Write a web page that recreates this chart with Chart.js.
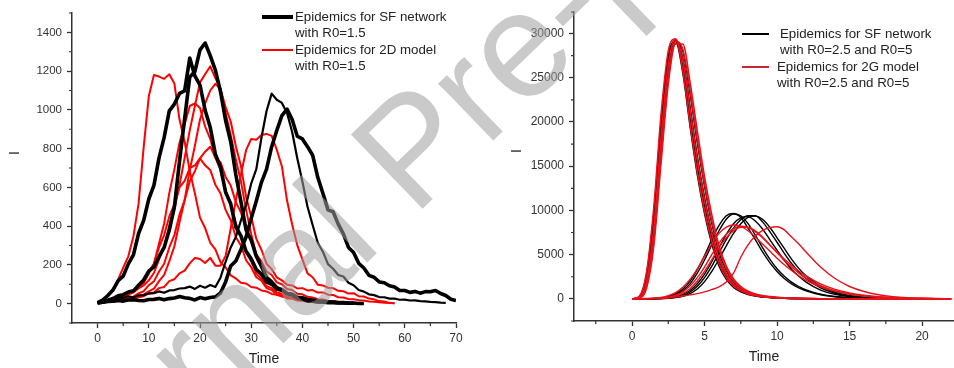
<!DOCTYPE html>
<html>
<head>
<meta charset="utf-8">
<script src="https://cdn.jsdelivr.net/npm/chart.js@4.4.1/dist/chart.umd.min.js"></script>
<style>
  html, body { margin: 0; padding: 0; background: #fff; }
  #wrap { position: relative; width: 954px; height: 368px; overflow: hidden; }
  .panel { position: absolute; top: 0; width: 477px; height: 368px; }
  #left { left: 0; }
  #right { left: 477px; }
  #mark { position: absolute; left: 0; top: 0; pointer-events: none; }
</style>
</head>
<body>
<div id="wrap">
  <div class="panel" id="left"><canvas id="c1" width="477" height="368"></canvas></div>
  <div class="panel" id="right"><canvas id="c2" width="477" height="368"></canvas></div>
  <svg id="mark" width="954" height="368">
    <text x="30" y="588" transform="rotate(-44 30 588)" font-family="Liberation Sans, Arial, sans-serif"
          font-size="150" fill="rgb(158,158,158)" fill-opacity="0.55">Journal Pre-proof</text>
  </svg>
</div>
<script>
/* ---------- left panel: R0 = 1.5, time step 1 ---------- */
const tLeft = [0,1,2,3,4,5,6,7,8,9,10,11,12,13,14,15,16,17,18,19,20,21,22,23,24,25,26,27,28,29,30,
  31,32,33,34,35,36,37,38,39,40,41,42,43,44,45,46,47,48,49,50,51,52,53,54,55,56,57,58,59,60,
  61,62,63,64,65,66,67,68,69,70];

// SF network runs (black)
const sfLow1 = [5,18,42,70,118,142,205,252,362,430,540,610,752,858,995,1030,1085,1098,1268,1175,1128,
  998,910,772,705,575,515,395,350,270,232,176,152,112,100,76,70,52,48,33,30,21,19,13,12,9,8,5,5,3,3,1,1];
const sfLow2 = [3,9,18,26,40,46,60,66,95,122,168,190,242,290,380,500,735,955,1170,1198,1310,1345,1280,
  1205,1095,945,835,665,525,380,328,244,192,136,112,82,72,52,46,29,23,14,13,9,8,5,5,3,3,2,2];
const sfLow3 = [5,9,16,18,28,29,38,33,43,44,52,54,63,56,68,70,78,80,88,76,92,82,96,86,134,216,290,344,
  430,510,620,694,856,994,1084,1052,1036,984,886,750,630,500,406,314,268,204,180,148,140,108,95,70,62,
  48,44,34,33,26,26,20,21,16,17,13,12,9,8,5,4];
const sfLow4 = [3,7,11,12,16,13,19,20,16,15,21,22,27,20,26,29,37,30,27,19,31,25,32,35,55,112,194,220,
  280,344,440,530,626,694,810,894,970,1004,950,864,850,810,766,652,570,484,474,410,360,290,264,208,184,
  146,136,112,108,92,86,68,68,58,63,54,62,61,68,52,42,23,16];

// 2D model runs (red)
const mLow1 = [5,15,38,74,124,186,244,348,516,808,1070,1180,1172,1160,1184,1136,950,836,684,570,444,
  390,314,280,214,188,146,130,108,104,86,82,68,63,50,46,36,33,26,23,17,16,11,10,7,6,4,4,2,2,1];
const mLow2 = [3,8,13,19,31,39,52,58,78,94,120,158,228,296,400,484,612,752,894,1020,1142,1184,1225,
  1164,1110,984,870,744,630,484,360,254,188,126,100,72,64,48,42,30,26,19,17,12,10,7,6,4,4,2,2,1,0];
const mLow3 = [2,5,9,11,17,19,26,29,40,46,63,77,116,148,218,296,420,534,690,814,950,1034,1100,1134,
  1110,1014,940,812,710,552,450,334,278,206,178,136,120,98,94,78,80,68,70,57,58,46,45,33,32,24,23,18,
  16,11,10,7,5,3,2];
const mLow4 = [5,8,13,15,23,29,47,58,83,106,155,206,310,414,570,694,830,924,1020,1034,1010,914,850,754,
  690,584,510,414,350,264,218,156,128,90,80,57,51,35,32,22,19,12,11,7,6,3,3,2];
const mLow5 = [3,5,9,10,16,19,30,36,53,64,95,115,166,206,290,354,460,534,630,684,750,784,810,754,730,
  654,610,524,470,384,330,254,218,166,148,110,100,76,70,51,48,35,32,23,21,14,13,8,6,4,2];
const mLow6 = [4,6,11,15,27,34,53,65,94,116,166,206,290,354,450,514,600,634,700,714,750,714,690,614,
  570,484,430,344,300,224,188,136,118,80,70,46,43,27,26,16,15,9,9,5,4,3];
const mLow7 = [2,5,9,9,13,14,22,24,33,38,54,57,80,86,116,126,156,170,208,236,230,210,236,196,196,246,
  388,532,668,792,850,846,870,876,866,794,708,532,408,302,228,156,136,98,94,82,80,66,64,52,54,38,37,
  26,22,13,11,4,2];

const xTicksLeft = [0,10,20,30,40,50,60,70];
const xMinorLeft = [5,15,25,35,45,55,65];
const yTicksLeft = [0,200,400,600,800,1000,1200,1400];
const yMinorLeft = [-100,100,300,500,700,900,1100,1300,1500];

/* ---------- right panel: R0 = 2.5 and R0 = 5 ---------- */
const tRight = [0,0.5,1,1.5,2,2.5,3,3.5,4,4.5,5,5.5,6,6.5,7,7.5,8,8.5,9,9.5,10,10.5,11,11.5,12,
  13,14,15,16,17,18,19,20,21,22];

// SF network, R0 = 5
const sfHighA = [0,250,2800,9800,20000,27500,29100,25500,19500,14000,9600,6200,3700,2200,1300,800,500,320,210,140,95,65,45,30,20,8,3,0,0,0,0,0,0,0,0];
const sfHighB = [0,200,2300,8800,19000,27000,29300,26300,20500,15000,10500,6900,4200,2500,1500,900,560,350,230,150,100,70,48,32,22,9,3,0,0,0,0,0,0,0,0];
const sfHighC = [0,150,1800,7600,17500,26000,29200,27200,21800,16200,11500,7600,4700,2800,1650,1000,620,390,250,165,110,75,50,35,24,10,4,1,0,0,0,0,0,0,0];
const sfHighD = [0,100,1400,6500,16000,24800,28900,28000,23200,17600,12700,8500,5300,3200,1900,1150,700,440,280,180,120,80,55,38,26,11,4,1,0,0,0,0,0,0,0];
// SF network, R0 = 2.5
const sfMidA = [0,5,20,50,110,260,560,1100,2000,3300,4900,6700,8300,9400,9650,9200,8000,6700,5300,4100,3100,2300,1700,1250,900,460,230,115,57,28,14,7,3,2,1];
const sfMidB = [0,4,15,40,90,210,460,920,1700,2900,4400,6100,7700,9000,9600,9400,8500,7200,5800,4500,3400,2550,1900,1400,1020,530,270,135,67,33,16,8,4,2,1];
const sfMidC = [0,3,8,20,45,110,240,500,950,1700,2800,4200,5800,7300,8500,9150,9300,8800,7900,6700,5500,4350,3350,2550,1900,1000,510,255,127,63,31,15,8,4,2];
const sfMidD = [0,2,6,15,35,85,190,400,780,1420,2400,3700,5200,6700,8000,8950,9400,9400,8700,7600,6400,5150,4000,3050,2300,1250,640,320,160,80,40,20,10,5,2];
const sfMidE = [0,1,4,10,25,60,140,300,600,1120,1950,3100,4500,6000,7400,8500,9200,9350,9000,8100,6900,5700,4500,3450,2600,1450,760,380,190,95,47,23,12,6,3];

// 2G model, R0 = 5
const gHighA = [0,300,3000,10300,20800,28000,29400,25800,19800,14300,9900,6500,4000,2400,1450,900,560,360,240,160,110,75,52,36,25,11,5,2,0,0,0,0,0,0,0];
const gHighB = [0,180,2000,8000,18200,26500,29300,27000,21400,15800,11200,7400,4600,2800,1700,1050,650,420,280,190,130,90,62,44,30,13,5,2,0,0,0,0,0,0,0];
const gHighC = [0,120,1500,6800,16500,25200,29100,28200,23600,18000,13000,8800,5600,3400,2050,1250,780,500,330,220,150,100,70,50,34,15,6,2,0,0,0,0,0,0,0];
const gHighD = [0,90,1200,6000,15300,24300,28800,28800,24500,19000,13800,9500,6000,3700,2250,1400,870,560,370,250,170,115,80,56,38,17,7,3,1,0,0,0,0,0,0];
// 2G model, R0 = 2.5
const gMidA = [0,15,40,80,150,350,700,1300,2200,3400,4800,6200,7400,8100,8350,8200,7700,7000,6200,5400,4600,3850,3200,2600,2100,1350,850,520,320,190,110,65,38,22,13];
const gMidB = [0,8,25,45,80,200,420,800,1450,2400,3600,5000,6300,7300,7950,8200,8050,7600,6900,6100,5300,4500,3800,3150,2600,1700,1080,670,410,250,150,90,54,32,19];
const gMidC = [0,5,15,28,50,130,300,620,1150,2000,3100,4400,5800,6900,7700,8100,8100,7700,7000,6100,5200,4350,3600,2900,2350,1500,930,570,350,210,125,75,45,27,16];
const gMidD = [0,3,10,30,60,120,200,320,450,600,800,1050,1350,1900,2900,4700,6100,7100,7750,8050,8150,7800,7000,6200,5300,3600,2300,1400,830,470,260,140,75,40,20];

const xTicksRight = [0,5,10,15,20];
const xMinorRight = [-2.5,2.5,7.5,12.5,17.5];
const yTicksRight = [0,5000,10000,15000,20000,25000,30000];
const yMinorRight = [-2500,2500,7500,12500,17500,22500,27500,32400];

/* ---------- drawing ---------- */
const AXIS = '#333';
const TXT = '#333';
const RED = '#ff0000';
Chart.defaults.font.family = "'Liberation Sans', Arial, sans-serif";

function pts(times, vals) {
  return vals.map((v, i) => ({ x: times[i], y: v }));
}

function run(times, vals, color, width, smooth) {
  return {
    data: pts(times, vals),
    borderColor: color,
    borderWidth: width,
    pointRadius: 0,
    fill: false,
    tension: smooth ? 0.4 : 0,
    cubicInterpolationMode: smooth ? 'monotone' : 'default',
    borderJoinStyle: 'round'
  };
}

// minor ticks, rotated "I" axis title and the two-entry legend
const decor = {
  id: 'decor',
  afterDraw(chart, args, o) {
    const ctx = chart.ctx;
    const area = chart.chartArea;
    const xs = chart.scales.x, ys = chart.scales.y;
    ctx.save();
    ctx.strokeStyle = AXIS;
    ctx.lineWidth = 1.2;
    ctx.beginPath();
    o.minorX.forEach(v => {
      const p = xs.getPixelForValue(v);
      ctx.moveTo(p, area.bottom);
      ctx.lineTo(p, area.bottom + 3);
    });
    o.minorY.forEach(v => {
      const p = ys.getPixelForValue(v);
      ctx.moveTo(area.left, p);
      ctx.lineTo(area.left - 3, p);
    });
    ctx.stroke();

    ctx.fillStyle = '#222';
    ctx.font = "14px 'Liberation Sans', Arial, sans-serif";
    ctx.textAlign = 'center';
    ctx.textBaseline = 'middle';
    ctx.save();
    ctx.translate(o.yTitle.x, o.yTitle.y);
    ctx.rotate(-Math.PI / 2);
    ctx.fillText('I', 0, 0);
    ctx.restore();

    ctx.font = "13.3px 'Liberation Sans', Arial, sans-serif";
    ctx.textAlign = 'left';
    o.legend.forEach(item => {
      ctx.strokeStyle = item.color;
      ctx.lineWidth = item.width;
      ctx.beginPath();
      ctx.moveTo(item.x0, item.y);
      ctx.lineTo(item.x1, item.y);
      ctx.stroke();
      item.lines.forEach((txt, i) => ctx.fillText(txt, item.tx, item.y + i * 16.3));
    });
    ctx.restore();
  }
};

function axes(xmin, xmax, xt, ymin, ymax, yt, yWidth, xHeight, xFont, yFont, titlePad) {
  const grid = { drawOnChartArea: false, drawTicks: true, tickLength: 5, tickColor: AXIS, tickWidth: 1.3 };
  const border = { display: true, color: AXIS, width: 1.5 };
  return {
    x: {
      type: 'linear', min: xmin, max: xmax,
      afterBuildTicks: s => { s.ticks = xt.map(v => ({ value: v })); },
      afterFit: s => { s.height = xHeight; },
      grid, border,
      ticks: { color: TXT, font: { size: xFont }, padding: 3, maxRotation: 0, autoSkip: false,
               callback: v => String(v) },
      title: { display: true, text: 'Time', color: '#222', font: { size: 14 },
               padding: { top: 0, bottom: titlePad } }
    },
    y: {
      type: 'linear', min: ymin, max: ymax,
      afterBuildTicks: s => { s.ticks = yt.map(v => ({ value: v })); },
      afterFit: s => { s.width = yWidth; },
      grid, border,
      ticks: { color: TXT, font: { size: yFont }, padding: 5, autoSkip: false,
               callback: v => String(v) }
    }
  };
}

const leftSets = [
  run(tLeft, sfLow1, '#000', 3.6, false),
  run(tLeft, sfLow2, '#000', 3.6, false),
  run(tLeft, sfLow3, '#000', 2.2, false),
  run(tLeft, sfLow4, '#000', 3.6, false),
  run(tLeft, mLow1, RED, 2, false),
  run(tLeft, mLow2, RED, 2, false),
  run(tLeft, mLow3, RED, 2, false),
  run(tLeft, mLow4, RED, 2, false),
  run(tLeft, mLow5, RED, 2, false),
  run(tLeft, mLow6, RED, 2, false),
  run(tLeft, mLow7, RED, 2, false)
];

new Chart(document.getElementById('c1'), {
  type: 'line',
  data: { datasets: leftSets },
  options: {
    responsive: false,
    animation: false,
    layout: { padding: { left: 0, top: 13, right: 21, bottom: 0 } },
    plugins: {
      legend: { display: false },
      tooltip: { enabled: false },
      decor: {
        minorX: xMinorLeft, minorY: yMinorLeft,
        yTitle: { x: 15, y: 153 },
        legend: [
          { color: '#000', width: 4, x0: 262, x1: 293, y: 17, tx: 295,
            lines: ['Epidemics for SF network', 'with R0=1.5'] },
          { color: RED, width: 2, x0: 262, x1: 293, y: 50, tx: 295,
            lines: ['Epidemics for 2D model', 'with R0=1.5'] }
        ]
      }
    },
    scales: axes(-5, 70, xTicksLeft, -100, 1500, yTicksLeft, 72, 45, 12, 11.5, 0)
  },
  plugins: [decor]
});

const RED2 = '#e8121a';
const rightSets = [
  run(tRight, gHighA, RED2, 1.6, true),
  run(tRight, gHighB, RED2, 1.6, true),
  run(tRight, gHighC, RED2, 1.6, true),
  run(tRight, gHighD, RED2, 1.6, true),
  run(tRight, gMidA, RED2, 1.4, true),
  run(tRight, gMidB, RED2, 1.4, true),
  run(tRight, gMidC, RED2, 1.4, true),
  run(tRight, gMidD, RED2, 1.4, true),
  run(tRight, sfHighA, '#000', 1.4, true),
  run(tRight, sfHighB, '#000', 1.4, true),
  run(tRight, sfHighC, '#000', 1.4, true),
  run(tRight, sfHighD, '#000', 1.4, true),
  run(tRight, sfMidA, '#000', 1.4, true),
  run(tRight, sfMidB, '#000', 1.4, true),
  run(tRight, sfMidC, '#000', 1.4, true),
  run(tRight, sfMidD, '#000', 1.4, true),
  run(tRight, sfMidE, '#000', 1.4, true)
];

new Chart(document.getElementById('c2'), {
  type: 'line',
  data: { datasets: rightSets },
  options: {
    responsive: false,
    animation: false,
    layout: { padding: { left: 0, top: 12, right: 0, bottom: 0 } },
    plugins: {
      legend: { display: false },
      tooltip: { enabled: false },
      decor: {
        minorX: xMinorRight, minorY: yMinorRight,
        yTitle: { x: 40, y: 151 },
        legend: [
          { color: '#000', width: 2, x0: 265, x1: 292, y: 34, tx: 303,
            lines: ['Epidemics for SF network', 'with R0=2.5 and R0=5'] },
          { color: '#c8282d', width: 2, x0: 265, x1: 292, y: 67, tx: 300,
            lines: ['Epidemics for 2G model', 'with R0=2.5 and R0=5'] }
        ]
      }
    },
    scales: axes(-4, 22.2, xTicksRight, -2500, 32400, yTicksRight, 97, 47, 12, 12, 2.6)
  },
  plugins: [decor]
});
</script>
</body>
</html>
